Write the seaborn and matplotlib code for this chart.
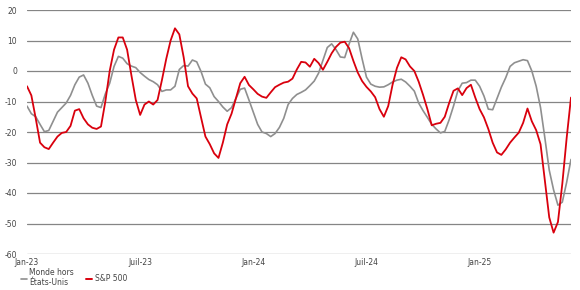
import matplotlib
matplotlib.use("Agg")
import matplotlib.pyplot as plt
from matplotlib.lines import Line2D
import seaborn as sns
import pandas as pd
import numpy as np

# ---- data (weekly) ----
dates = pd.date_range("2023-01-06", periods=126, freq="7D")

sp500 = [
    -5, -8, -15.5, -23.5, -25, -25.6, -23.5, -21.5, -20.3, -20,
    -18, -13, -12.5, -15.5, -17.5, -18.6, -19, -18.2, -10, 0,
    7, 11, 11, 7, -1.5, -9.5, -14.4, -11, -10, -11,
    -9.5, -3, 4, 10, 14, 12, 4.5, -5, -7.4, -9,
    -15.3, -21.5, -24, -27, -28.5, -23.5, -17.5, -14, -9, -4,
    -1.9, -4.6, -6, -7.5, -8.4, -8.8, -7, -5.3, -4.5, -3.8,
    -3.5, -2.5, 0.5, 3, 2.8, 1.4, 4, 2.6, 0.4, 3,
    5.8, 7.9, 9.3, 9.6, 7.5, 3.3, -0.5, -3.3, -5.2, -6.7,
    -8.6, -12.5, -15, -11.5, -4.5, 1, 4.5, 3.8, 1.5, 0,
    -3.5, -7.8, -12.5, -17.8, -17.3, -17, -15, -10.5, -6.5, -5.7,
    -7.9, -5.6, -4.5, -8.7, -12.5, -15.2, -19, -23.5, -26.7, -27.5,
    -25.7, -23.5, -21.8, -20.2, -17, -12.3, -16.5, -19.4, -24, -36,
    -48, -53, -49.5, -37, -22, -8.7,
]

world_ex_us = [
    -11.5, -14, -15, -17.5, -19.9, -19.5, -16.5, -13.5, -12, -10.5,
    -8, -4.5, -2, -1.3, -4, -8, -11.5, -12, -7.5, -4,
    1.5, 4.8, 4.2, 2.4, 1.6, 1.1, -0.5, -1.7, -2.8, -3.5,
    -4.5, -6.7, -6.2, -6.2, -5, 0.5, 1.8, 1.6, 3.6, 3,
    -0.2, -4.3, -5.5, -8.4, -10, -11.8, -13.2, -12, -9, -6,
    -5.6, -9.5, -13.5, -17.5, -20, -20.5, -21.5, -20.5, -18.5, -15.5,
    -11, -9, -7.7, -7, -6.2, -4.8, -3.3, -0.7, 3.5, 7.7,
    8.9, 7, 4.6, 4.4, 8.8, 12.7, 10.5, 4, -2, -4.3,
    -5, -5.3, -5.2, -4.5, -3.6, -3, -2.7, -3.6, -5, -6.6,
    -10.5, -13, -15.2, -17.5, -19, -20.3, -19.8, -16, -11.5, -6.5,
    -4, -3.8, -3, -3, -5, -8.2, -12.5, -12.7, -9, -5.3,
    -2.2, 1.5, 2.7, 3.2, 3.7, 3.4, 0, -5, -12, -22,
    -32.5, -39, -44, -43, -36.5, -29,
]

series_names = ["Monde hors\nÉtats-Unis", "S&P 500"]
tick_positions = [0, 26, 52, 78, 104]
tick_labels = ["Jan-23", "Juil-23", "Jan-24", "Juil-24", "Jan-25"]
y_ticks = [-60, -50, -40, -30, -20, -10, 0, 10, 20]

colors = {series_names[0]: "#8f8f8f", series_names[1]: "#d9000d"}

df = pd.DataFrame({
    "date": list(dates) * 2,
    "value": world_ex_us + sp500,
    "series": [series_names[0]] * len(dates) + [series_names[1]] * len(dates),
})

sns.set_theme(style="white")
plt.rcParams["font.family"] = ["DejaVu Sans"]

fig = plt.figure(figsize=(5.8, 2.9), dpi=100)
ax = fig.add_axes([27 / 580, 1 - 254 / 290, (571 - 27) / 580, 244 / 290])

sns.lineplot(data=df[df.series == series_names[0]], x="date", y="value",
             color=colors[series_names[0]], linewidth=1.2, ax=ax, legend=False)
sns.lineplot(data=df[df.series == series_names[1]], x="date", y="value",
             color=colors[series_names[1]], linewidth=1.3, ax=ax, legend=False)

ax.set_xlim(dates[0], dates[-1])
ax.set_ylim(-60, 20)
ax.set_yticks(y_ticks)
ax.set_yticklabels([str(v) for v in y_ticks])
ax.set_xticks([dates[i] for i in tick_positions])
ax.set_xticklabels(tick_labels)
ax.set_xlabel("")
ax.set_ylabel("")
ax.grid(axis="y", color="#858585", linewidth=0.9)
ax.grid(axis="x", visible=False)
for s in ax.spines.values():
    s.set_visible(False)
ax.tick_params(axis="both", length=0, labelsize=5.5, colors="#444444")
ax.tick_params(axis="y", pad=7)
ax.tick_params(axis="x", pad=3)
ax.set_axisbelow(True)

handles = [Line2D([0], [0], color=colors[n], lw=1.2 if i == 0 else 1.4)
           for i, n in enumerate(series_names)]
fig.legend(handles, series_names, loc="upper left",
           bbox_to_anchor=(21 / 580, 1 - 268 / 290), ncol=2, frameon=False,
           fontsize=5.5, handlelength=0.8, handletextpad=0.3,
           columnspacing=1.6, labelcolor="#444444", borderaxespad=0,
           borderpad=0)

fig.savefig("out.png", dpi=100)
